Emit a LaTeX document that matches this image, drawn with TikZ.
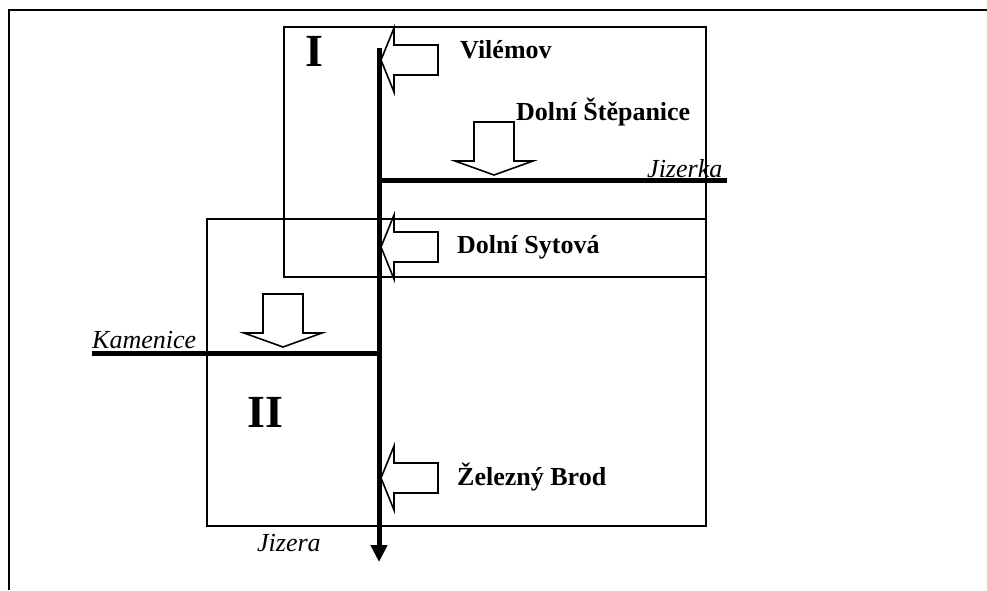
\documentclass[tikz,border=0pt]{standalone}
\usepackage{fontspec}
\setmainfont{Liberation Serif}
\usetikzlibrary{arrows.meta, positioning}

\begin{document}
\begin{tikzpicture}[x=1pt, y=-1pt, line join=miter,
    frame/.style={line width=2pt},
    area/.style={line width=1.6pt},
    river/.style={line width=5pt},
    blockarr/.style={draw=black, line width=1.6pt, fill=white},
    place/.style={inner sep=0pt, anchor=base west,
      font=\fontsize{26}{30}\selectfont\bfseries},
    stream/.style={inner sep=0pt, anchor=base west,
      font=\fontsize{26}{30}\selectfont\itshape},
    areaname/.style={inner sep=0pt, anchor=base west,
      font=\fontsize{46}{50}\selectfont\bfseries},
    arrleft/.pic={
      \path[blockarr] (0,0) -- (13,-32) -- (13,-15) -- (57,-15)
        -- (57,15) -- (13,15) -- (13,32) -- cycle;},
    arrdown/.pic={
      \path[blockarr] (0,0) -- (-39,-14) -- (-20,-14) -- (-20,-53)
        -- (20,-53) -- (20,-14) -- (39,-14) -- cycle;}]

  \useasboundingbox (0,0) rectangle (987,590);

  % outer frame (open to the right and bottom)
  \draw[frame] (987,10) -- (9,10) -- (9,590);

  % areas I and II
  \draw[area] (284,27) rectangle (706,277);
  \draw[area] (207,219) rectangle (706,526);
  \node[areaname] (a1) at (305,66) {I};
  \node[areaname] (a2) at (247,427) {II};

  % stations
  \pic (vil) at (381,60) {arrleft};
  \pic (syt) at (381,247) {arrleft};
  \pic (brod) at (381,478) {arrleft};
  \pic (stp) at (494,175) {arrdown};
  \pic (kam) at (283,347) {arrdown};

  % rivers
  \coordinate (src) at (379,48);
  \coordinate (mouth) at (379,562);
  \coordinate (jk) at (379,180);
  \coordinate (jkend) at (727,180);
  \coordinate (km) at (379,353);
  \coordinate (kmend) at (92,353);
  \draw[river, -{Triangle[width=16pt, length=17pt]}] (src) -- (mouth);
  \draw[river] (jk) -- (jkend);
  \draw[river] (km) -- (kmend);

  % labels
  \node[place] (lvil) at (460,58) {Vilémov};
  \node[place] (lstp) at (516,120) {Dolní Štěpanice};
  \node[place] (lsyt) at (457,253) {Dolní Sytová};
  \node[place] (lbrod) at (457,485) {Železný Brod};
  \node[stream] (ljk) at (647,177) {Jizerka};
  \node[stream] (lkm) at (92,348) {Kamenice};
  \node[stream] (ljz) at (257,551) {Jizera};

\end{tikzpicture}
\end{document}
